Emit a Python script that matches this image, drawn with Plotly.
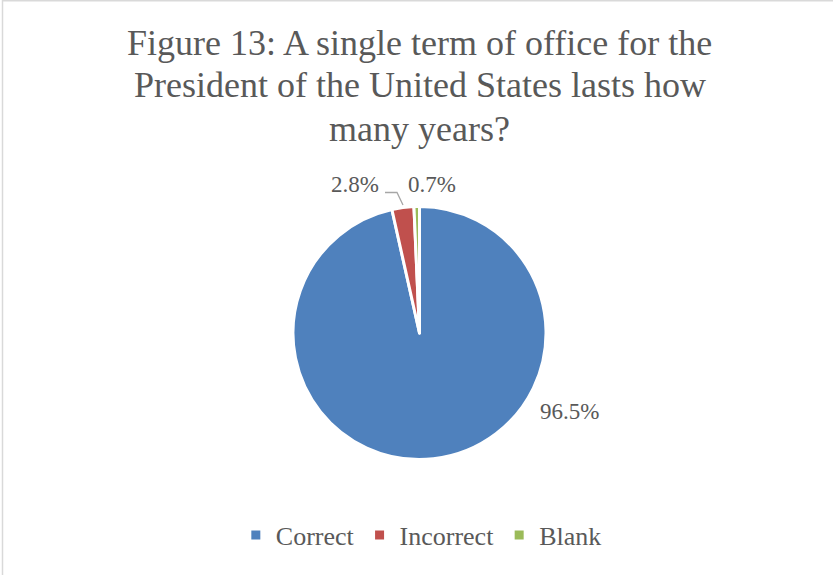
import plotly.graph_objects as go

# Survey responses
categories = ["Correct", "Incorrect", "Blank"]
shares = [96.5, 2.8, 0.7]
colors = ["#4F81BD", "#C0504D", "#9BBB59"]

title_lines = [
    "Figure 13: A single term of office for the",
    "President of the United States lasts how",
    "many years?",
]

W, H = 833, 575
TEXT = "#595959"
FONT = "Liberation Serif, Times New Roman, serif"

# Pie placement in pixels (centre and radius)
cx, cy, r = 419.5, 333.0, 126.5

fig = go.Figure(
    go.Pie(
        labels=categories,
        values=shares,
        sort=False,
        direction="clockwise",
        rotation=0,
        textinfo="none",
        marker=dict(colors=colors, line=dict(color="white", width=3)),
        domain=dict(
            x=[(cx - r) / W, (cx + r) / W],
            y=[1 - (cy + r) / H, 1 - (cy - r) / H],
        ),
        hoverinfo="label+percent",
    )
)

# Title, one line per annotation for tight line spacing
title_centres = [42.5, 85.5, 128.5]
for line, ty in zip(title_lines, title_centres):
    fig.add_annotation(
        x=419.5 / W, y=1 - ty / H, xref="paper", yref="paper",
        text=line, showarrow=False,
        font=dict(family=FONT, size=36, color=TEXT),
        xanchor="center", yanchor="middle",
    )

# Data label positions (pixels) for each slice
label_pos = [(569.5, 411.0), (354.5, 185.0), (431.7, 185.0)]
for v, (lx, ly) in zip(shares, label_pos):
    fig.add_annotation(
        x=lx / W, y=1 - ly / H, xref="paper", yref="paper",
        text=f"{v:.1f}%", showarrow=False,
        font=dict(family=FONT, size=23, color=TEXT),
        xanchor="center", yanchor="middle",
    )

# Leader line for the small red slice label
pts = [(385, 192.5), (397, 192.5), (403, 205)]
path = "M " + " L ".join(f"{x / W},{1 - y / H}" for x, y in pts)
fig.add_shape(type="path", xref="paper", yref="paper", path=path,
              line=dict(color="#A6A6A6", width=1.3))

# Chart area frame (left and top edges)
fig.add_shape(type="line", xref="paper", yref="paper",
              x0=2.5 / W, x1=2.5 / W, y0=0, y1=1,
              line=dict(color="#D9D9D9", width=1.5))
fig.add_shape(type="line", xref="paper", yref="paper",
              x0=2.5 / W, x1=1, y0=1 - 0.7 / H, y1=1 - 0.7 / H,
              line=dict(color="#D9D9D9", width=1.5))

fig.update_layout(
    width=W, height=H,
    margin=dict(l=0, r=0, t=0, b=0),
    paper_bgcolor="white",
    plot_bgcolor="white",
    showlegend=True,
    legend=dict(
        orientation="h",
        x=0.5058, xanchor="center",
        y=1 - 535 / H, yanchor="middle",
        font=dict(family=FONT, size=26, color=TEXT),
        itemclick=False,
    ),
)

fig.write_html("out.html")
